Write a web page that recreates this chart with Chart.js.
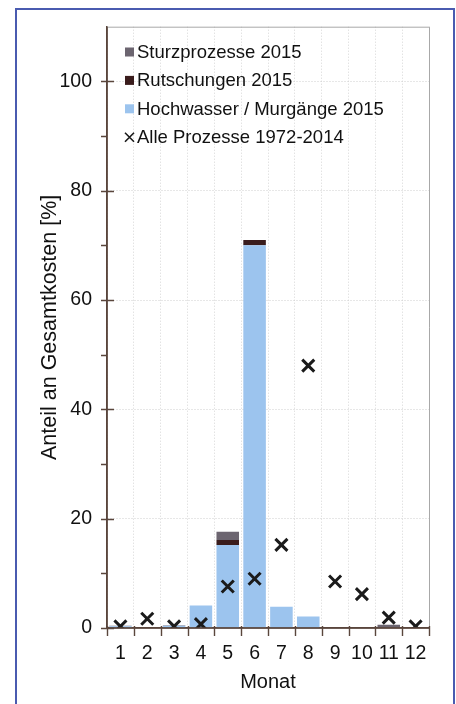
<!DOCTYPE html>
<html>
<head>
<meta charset="utf-8">
<script src="https://cdn.jsdelivr.net/npm/chart.js@4"></script>
<style>
  html, body { margin: 0; padding: 0; background: #fff; }
  #wrap { position: relative; width: 456px; height: 704px; overflow: hidden; }
  #frame { position: absolute; left: 15px; top: 8px; width: 436px; height: 720px; border: 2px solid #4a5bb0; }
  #chart { position: absolute; left: 0; top: 0; }
</style>
</head>
<body>
<div id="wrap">
  <div id="frame"></div>
  <canvas id="chart" width="456" height="704"></canvas>
</div>
<script>
// Months on the x axis
const months = ['1', '2', '3', '4', '5', '6', '7', '8', '9', '10', '11', '12'];

// Share of total costs in 2015 per process type [%]
const hochwasser = [0.3, 0.1, 0.4, 4.1, 15.2, 70.0, 3.9, 2.1, 0, 0.1, 0.1, 0];
const rutschungen = [0, 0, 0, 0, 0.9, 1.0, 0, 0, 0, 0, 0, 0];
const sturzprozesse = [0.1, 0, 0.1, 0, 1.5, 0, 0, 0, 0, 0, 0.5, 0];

// All processes 1972-2014 [%]
const alleProzesse = [0.3, 1.7, 0.3, 0.7, 7.6, 9.0, 15.2, 48.0, 8.5, 6.2, 1.9, 0.3];

const FONT = "'Liberation Sans', Arial, sans-serif";
const AXIS_COLOR = '#5a463c';

// Legend drawn inside the plot area, top left
const insideLegend = {
  id: 'insideLegend',
  afterDraw(chart) {
    const { ctx, chartArea } = chart;
    const ds = chart.data.datasets;
    const order = [2, 1, 0, 3];
    const x = chartArea.left + 18;
    let y = 52;
    ctx.save();
    ctx.font = `18.5px ${FONT}`;
    ctx.textBaseline = 'middle';
    order.forEach(i => {
      const d = ds[i];
      if (d.type === 'line') {
        ctx.strokeStyle = '#1b1b1b';
        ctx.lineWidth = 1.6;
        ctx.beginPath();
        ctx.moveTo(x, y - 4.5);
        ctx.lineTo(x + 9, y + 4.5);
        ctx.moveTo(x + 9, y - 4.5);
        ctx.lineTo(x, y + 4.5);
        ctx.stroke();
      } else {
        ctx.fillStyle = d.backgroundColor;
        ctx.fillRect(x, y - 4.5, 9, 9);
      }
      ctx.fillStyle = '#111';
      ctx.fillText(d.label, x + 12, y + 1);
      y += 28.4;
    });
    ctx.restore();
  },
};

// Axis tick marks and the thin frame on top and right of the plot
const axisDecor = {
  id: 'axisDecor',
  afterDraw(chart) {
    const { ctx, chartArea, scales } = chart;
    const ys = scales.y;
    ctx.save();
    ctx.setLineDash([]);
    ctx.strokeStyle = '#a8a8a8';
    ctx.lineWidth = 1;
    ctx.beginPath();
    ctx.moveTo(chartArea.left, chartArea.top + 0.5);
    ctx.lineTo(chartArea.right + 0.5, chartArea.top + 0.5);
    ctx.lineTo(chartArea.right + 0.5, chartArea.bottom);
    ctx.stroke();

    // redraw the axis lines solid on top
    ctx.strokeStyle = AXIS_COLOR;
    ctx.lineWidth = 1.5;
    ctx.beginPath();
    ctx.moveTo(chartArea.left, chartArea.top);
    ctx.lineTo(chartArea.left, chartArea.bottom);
    ctx.lineTo(chartArea.right, chartArea.bottom);
    ctx.stroke();

    ctx.lineWidth = 1.4;
    ctx.beginPath();
    for (let v = 0; v <= 100; v += 10) {
      const py = Math.round(ys.getPixelForValue(v)) + 0.5;
      const major = v % 20 === 0;
      ctx.moveTo(chartArea.left - 6, py);
      ctx.lineTo(chartArea.left + (major ? 7 : 0), py);
    }
    const step = (chartArea.right - chartArea.left) / months.length;
    for (let i = 0; i <= months.length; i++) {
      const px = Math.round(chartArea.left + i * step) + 0.5;
      ctx.moveTo(px, chartArea.bottom - 2);
      ctx.lineTo(px, chartArea.bottom + 8);
    }
    ctx.stroke();
    ctx.restore();
  },
};

const ctx = document.getElementById('chart').getContext('2d');

new Chart(ctx, {
  type: 'bar',
  data: {
    labels: months,
    datasets: [
      {
        label: 'Hochwasser / Murgänge 2015',
        data: hochwasser,
        backgroundColor: '#9cc4ee',
        order: 1,
      },
      {
        label: 'Rutschungen 2015',
        data: rutschungen,
        backgroundColor: '#3a1c1c',
        order: 1,
      },
      {
        label: 'Sturzprozesse 2015',
        data: sturzprozesse,
        backgroundColor: '#6c6570',
        order: 1,
      },
      {
        type: 'line',
        label: 'Alle Prozesse 1972-2014',
        data: alleProzesse,
        showLine: false,
        stack: 'points',
        pointStyle: 'crossRot',
        pointRadius: 8.5,
        pointBorderWidth: 3,
        borderColor: '#1b1b1b',
        backgroundColor: '#1b1b1b',
        order: 0,
      },
    ],
  },
  options: {
    responsive: false,
    animation: false,
    layout: { padding: { top: 23, right: 27, left: 0, bottom: 0 } },
    datasets: {
      bar: { barPercentage: 0.84, categoryPercentage: 1, borderWidth: 0 },
    },
    scales: {
      x: {
        stacked: true,
        afterFit: scale => { scale.height = 76; },
        border: { color: AXIS_COLOR, width: 1.5, dash: [1, 2] },
        grid: {
          offset: true,
          drawTicks: false,
          color: '#d6d6d6',
        },
        ticks: {
          padding: 14,
          color: '#111',
          font: { family: FONT, size: 19.5 },
          maxRotation: 0,
          autoSkip: false,
        },
        title: {
          display: true,
          text: 'Monat',
          color: '#111',
          font: { family: FONT, size: 20 },
          padding: { top: 0, bottom: 10 },
        },
      },
      y: {
        stacked: true,
        min: 0,
        max: 110,
        afterFit: scale => { scale.width = 107; },
        border: { color: AXIS_COLOR, width: 1.5, dash: [1, 2] },
        grid: {
          drawTicks: false,
          color: c => (c.tick && c.tick.value % 20 === 0 && c.tick.value > 0 && c.tick.value <= 100 ? '#cfcfcf' : 'rgba(0,0,0,0)'),
        },
        ticks: {
          stepSize: 10,
          padding: 15,
          color: '#111',
          font: { family: FONT, size: 19.5 },
          callback: v => (v % 20 === 0 && v <= 100 ? v : ''),
        },
        title: {
          display: true,
          text: 'Anteil an Gesamtkosten [%]',
          color: '#111',
          font: { family: FONT, size: 21.5 },
          padding: { top: 37, bottom: 0 },
        },
      },
    },
    plugins: {
      legend: { display: false },
      tooltip: { enabled: false },
    },
  },
  plugins: [insideLegend, axisDecor],
});
</script>
</body>
</html>
